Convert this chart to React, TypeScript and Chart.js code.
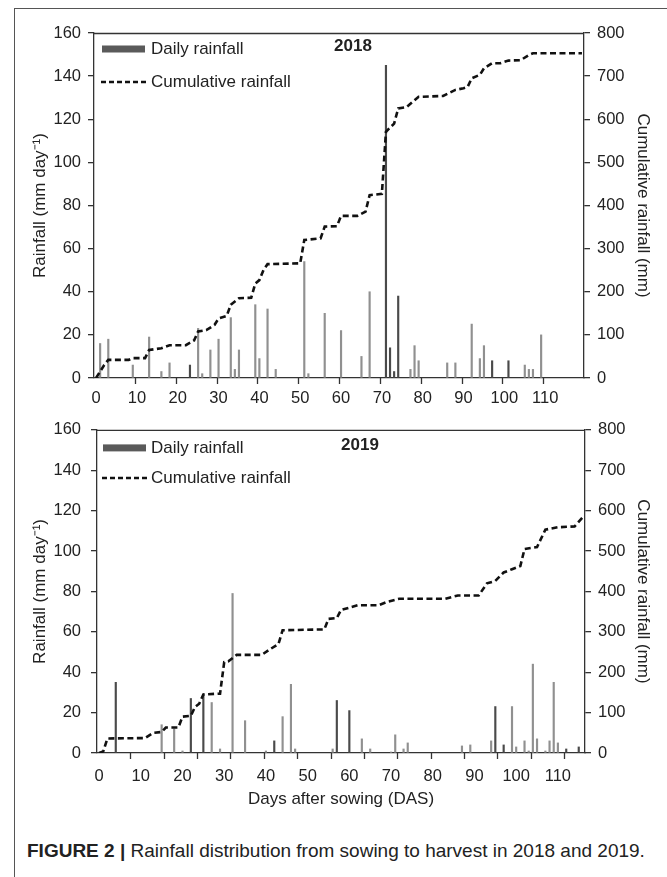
import React, { useEffect, useRef } from 'react';
import { Chart, registerables } from 'chart.js';

Chart.register(...registerables);

const FONT = '"Liberation Sans", Arial, Helvetica, sans-serif';
Chart.defaults.font.family = FONT;

// ---------- 2018 ----------
const days2018 = [1, 3, 9, 13, 16, 18, 23, 25, 26, 28, 30, 33, 34, 35, 39, 40, 42, 44, 51, 52, 56, 60, 65, 67, 71, 72, 73, 74, 77, 78, 79, 86, 88, 92, 94, 95, 97, 101, 105, 106, 107, 109];
const rain2018 = [16, 18, 6, 19, 3, 7, 6, 23, 2, 13, 18, 28, 4, 13, 34, 9, 32, 4, 54, 2, 30, 22, 10, 40, 145, 14, 3, 38, 4, 15, 8, 7, 7, 25, 9, 15, 8, 8, 6, 4, 4, 20];
const darkDays2018 = [23, 71, 72, 73, 74, 97, 101];
const cumDays2018 = [0, 1, 2, 3, 8, 9, 12, 13, 16, 18, 22, 24, 25, 27, 29, 30, 32, 33, 35, 38, 39, 40, 41, 42, 50, 51, 55, 56, 59, 60, 64, 66, 67, 70, 71, 73, 74, 76, 79, 85, 88, 90, 91, 92, 94, 95, 97, 99, 101, 104, 106, 107, 119];
const cum2018 = [0, 15, 30, 42, 42, 46, 46, 65, 69, 76, 76, 87, 108, 111, 123, 138, 144, 170, 185, 186, 219, 227, 250, 264, 266, 320, 324, 351, 352, 376, 376, 386, 424, 427, 571, 590, 625, 628, 652, 654, 668, 672, 675, 695, 703, 718, 730, 730, 736, 737, 749, 753, 753];

// ---------- 2019 ----------
const days2019 = [4, 15, 18, 20, 22, 25, 27, 29, 32, 35, 40, 42, 44, 46, 47, 56, 57, 60, 63, 65, 70, 71, 73, 74, 87, 89, 94, 95, 97, 99, 100, 102, 103, 104, 105, 107, 108, 109, 110, 112, 115];
const rain2019 = [35, 14, 12, 1, 27, 29, 25, 2, 79, 16, 1, 6, 18, 34, 2, 2, 26, 21, 7, 2, 0.5, 9, 2, 5, 3.5, 4, 6, 23, 4, 23, 3, 6, 1, 44, 7, 1, 6, 35, 5, 2, 3];
const darkDays2019 = [4, 22, 25, 42, 57, 60, 95, 97, 112, 115];
const cumDays2019 = [0, 1, 2, 11, 13, 15, 16, 19, 20, 22, 23, 24, 25, 29, 30, 31, 33, 39, 41, 43, 44, 54, 55, 57, 58, 62, 67, 69, 72, 83, 86, 91, 93, 95, 97, 99, 101, 102, 105, 107, 110, 114, 116];
const cum2019 = [0, 4, 36, 37, 50, 52, 63, 63, 90, 92, 114, 122, 145, 147, 225, 227, 243, 243, 257, 270, 304, 306, 332, 334, 354, 366, 366, 374, 382, 382, 390, 390, 420, 426, 447, 455, 463, 505, 510, 553, 559, 561, 584];

// ---------- axes ----------
const xLabels = [0, 10, 20, 30, 40, 50, 60, 70, 80, 90, 100, 110];
const xTickMarks2018 = [9.5, 19.5, 29.5, 39.5, 49.5, 59.5, 69.5, 79.5, 89.5, 99.5, 109.5];
const xTickMarks2019 = [7.5, 15.5, 23.5, 31.5, 39.5, 47.5, 55.5, 63.5, 71.5, 79.5, 87.5, 95.5, 103.5, 111.5];
const yLeftTicks = [0, 20, 40, 60, 80, 100, 120, 140, 160];
const yRightTicks = [0, 100, 200, 300, 400, 500, 600, 700, 800];

const LABEL_DAILY = 'Daily rainfall';
const LABEL_CUM = 'Cumulative rainfall';
const TITLE_LEFT = 'Rainfall (mm day\u207B\u00B9)';
const TITLE_RIGHT = 'Cumulative rainfall (mm)';
const TITLE_X = 'Days after sowing (DAS)';

const AXIS = '#333333';
const GREY_BAR = '#909090';
const DARK_BAR = '#4a4a4a';

const decorPlugin = {
  id: 'decor',
  afterDraw(chart: any, _args: any, opts: any) {
    const { ctx, chartArea: a, scales } = chart;
    ctx.save();
    ctx.strokeStyle = AXIS;
    ctx.lineWidth = 1.3;
    ctx.setLineDash([]);
    // top frame of plot
    ctx.beginPath();
    ctx.moveTo(a.left, a.top + 0.5);
    ctx.lineTo(a.right, a.top + 0.5);
    ctx.stroke();
    // x tick marks
    const xs = scales.x;
    ctx.beginPath();
    for (const v of opts.tickMarks) {
      const px = Math.round(xs.getPixelForValue(v)) + 0.5;
      ctx.moveTo(px, a.bottom);
      ctx.lineTo(px, a.bottom + 6);
    }
    ctx.stroke();
    // legend
    const ds = chart.data.datasets;
    ctx.fillStyle = '#5a5a5a';
    ctx.fillRect(a.left + opts.legX, a.top + opts.legY1 - 3.5, 43, 7);
    ctx.font = '17px ' + FONT;
    ctx.fillStyle = '#222';
    ctx.textBaseline = 'middle';
    ctx.textAlign = 'left';
    ctx.fillText(ds[0].label, a.left + opts.legTextX, a.top + opts.legY1);
    ctx.strokeStyle = '#111';
    ctx.lineWidth = 2.5;
    ctx.setLineDash([5, 3]);
    ctx.beginPath();
    ctx.moveTo(a.left + opts.legX - 1, a.top + opts.legY2);
    ctx.lineTo(a.left + opts.legX + 46, a.top + opts.legY2);
    ctx.stroke();
    ctx.setLineDash([]);
    ctx.fillText(ds[1].label, a.left + opts.legTextX, a.top + opts.legY2);
    // year
    ctx.font = 'bold 17px ' + FONT;
    ctx.textAlign = 'center';
    ctx.fillText(opts.year, opts.yearX, a.top + opts.yearY);
    ctx.restore();
  },
};

type Spec = {
  days: number[];
  rain: number[];
  dark: number[];
  cumDays: number[];
  cum: number[];
  xMax: number;
  tickMarks: number[];
  year: string;
  height: number;
  padTop: number;
  leftW: number;
  rightW: number;
  xH: number;
  xPad: number;
  showXTitle: boolean;
  legX: number;
  legTextX: number;
  legY1: number;
  legY2: number;
  yearX: number;
  yearY: number;
};

function buildConfig(s: Spec): any {
  const bars = s.days.map((d, i) => ({ x: d, y: s.rain[i] }));
  const line = s.cumDays.map((d, i) => ({ x: d, y: s.cum[i] }));
  const colors = s.days.map((d) => (s.dark.includes(d) ? DARK_BAR : GREY_BAR));
  return {
    type: 'bar',
    data: {
      datasets: [
        {
          type: 'bar',
          label: LABEL_DAILY,
          data: bars,
          backgroundColor: colors,
          barThickness: 1.5,
          xAxisID: 'x',
          yAxisID: 'y',
          order: 2,
        },
        {
          type: 'line',
          label: LABEL_CUM,
          data: line,
          borderColor: '#111',
          borderWidth: 2.6,
          borderDash: [6, 3.5],
          pointRadius: 0,
          tension: 0,
          fill: false,
          xAxisID: 'x',
          yAxisID: 'y2',
          order: 1,
        },
      ],
    },
    options: {
      animation: false,
      responsive: false,
      maintainAspectRatio: false,
      layout: { padding: { top: s.padTop, left: 0, right: 0, bottom: 0 } },
      plugins: {
        legend: { display: false },
        tooltip: { enabled: false },
        decor: {
          tickMarks: s.tickMarks,
          year: s.year,
          legX: s.legX,
          legTextX: s.legTextX,
          legY1: s.legY1,
          legY2: s.legY2,
          yearX: s.yearX,
          yearY: s.yearY,
        },
      },
      scales: {
        x: {
          type: 'linear',
          position: 'bottom',
          min: -0.5,
          max: s.xMax,
          offset: false,
          afterBuildTicks: (sc: any) => {
            sc.ticks = xLabels.map((v) => ({ value: v }));
          },
          afterFit: (sc: any) => {
            sc.height = s.xH;
          },
          grid: { display: false, drawTicks: false, offset: false },
          border: { display: true, color: AXIS, width: 1.3 },
          ticks: {
            color: '#222',
            font: { size: 16.5 },
            padding: s.xPad,
            maxRotation: 0,
            autoSkip: false,
            callback: (v: any) => String(v),
          },
          title: {
            display: s.showXTitle,
            text: TITLE_X,
            color: '#222',
            font: { size: 17 },
            padding: { top: 0, bottom: 10 },
          },
        },
        y: {
          type: 'linear',
          position: 'left',
          min: 0,
          max: 160,
          afterBuildTicks: (sc: any) => {
            sc.ticks = yLeftTicks.map((v) => ({ value: v }));
          },
          afterFit: (sc: any) => {
            sc.width = s.leftW;
          },
          grid: { display: true, drawOnChartArea: false, drawTicks: true, tickLength: 6, color: AXIS, lineWidth: 1.3 },
          border: { display: true, color: AXIS, width: 1.3 },
          ticks: { color: '#222', font: { size: 16.5 }, padding: s.leftW - 94 + 7 },
          title: {
            display: true,
            text: TITLE_LEFT,
            color: '#222',
            font: { size: 17 },
            padding: { top: 30, bottom: 0 },
          },
        },
        y2: {
          type: 'linear',
          position: 'right',
          min: 0,
          max: 800,
          afterBuildTicks: (sc: any) => {
            sc.ticks = yRightTicks.map((v) => ({ value: v }));
          },
          afterFit: (sc: any) => {
            sc.width = s.rightW;
          },
          grid: { display: true, drawOnChartArea: false, drawTicks: true, tickLength: 6, color: AXIS, lineWidth: 1.3 },
          border: { display: true, color: AXIS, width: 1.3 },
          ticks: { color: '#222', font: { size: 16.5 }, padding: 7 },
          title: {
            display: true,
            text: TITLE_RIGHT,
            color: '#222',
            font: { size: 17 },
            padding: { top: 14, bottom: 0 },
          },
        },
      },
    },
    plugins: [decorPlugin],
  };
}

function RainChart({ spec, top }: { spec: Spec; top: number }) {
  const ref = useRef<HTMLCanvasElement | null>(null);
  useEffect(() => {
    if (!ref.current) return;
    const chart = new Chart(ref.current, buildConfig(spec));
    return () => chart.destroy();
  }, [spec]);
  return (
    <canvas
      ref={ref}
      width={667}
      height={spec.height}
      style={{ position: 'absolute', left: 0, top, width: 667, height: spec.height }}
    />
  );
}

const spec2018: Spec = {
  days: days2018,
  rain: rain2018,
  dark: darkDays2018,
  cumDays: cumDays2018,
  cum: cum2018,
  xMax: 119.5,
  tickMarks: xTickMarks2018,
  year: '2018',
  height: 410,
  padTop: 33,
  leftW: 94,
  rightW: 83,
  xH: 32,
  xPad: 11,
  showXTitle: false,
  legX: 8,
  legTextX: 57,
  legY1: 16,
  legY2: 49,
  yearX: 353,
  yearY: 13,
};

const spec2019: Spec = {
  days: days2019,
  rain: rain2019,
  dark: darkDays2019,
  cumDays: cumDays2019,
  cum: cum2019,
  xMax: 116.5,
  tickMarks: xTickMarks2019,
  year: '2019',
  height: 410,
  padTop: 12,
  leftW: 97,
  rightW: 82,
  xH: 67,
  xPad: 14,
  showXTitle: true,
  legX: 6,
  legTextX: 54,
  legY1: 18,
  legY2: 48,
  yearX: 360,
  yearY: 15,
};

export default function App() {
  return (
    <div style={{ position: 'absolute', left: 0, top: 0, width: 667, height: 877, background: '#fff', overflow: 'hidden' }}>
      <div style={{ position: 'absolute', left: 14, top: 8, right: 0, height: 1.3, background: '#555' }} />
      <div style={{ position: 'absolute', left: 14, top: 8, bottom: 0, width: 1.3, background: '#555' }} />
      <RainChart spec={spec2018} top={0} />
      <RainChart spec={spec2019} top={410} />
      <div
        style={{
          position: 'absolute',
          left: 27,
          top: 840,
          fontFamily: FONT,
          fontSize: 19,
          color: '#222',
          whiteSpace: 'nowrap',
          lineHeight: '22px',
        }}
      >
        <b>FIGURE 2 |</b> Rainfall distribution from sowing to harvest in 2018 and 2019.
      </div>
    </div>
  );
}
